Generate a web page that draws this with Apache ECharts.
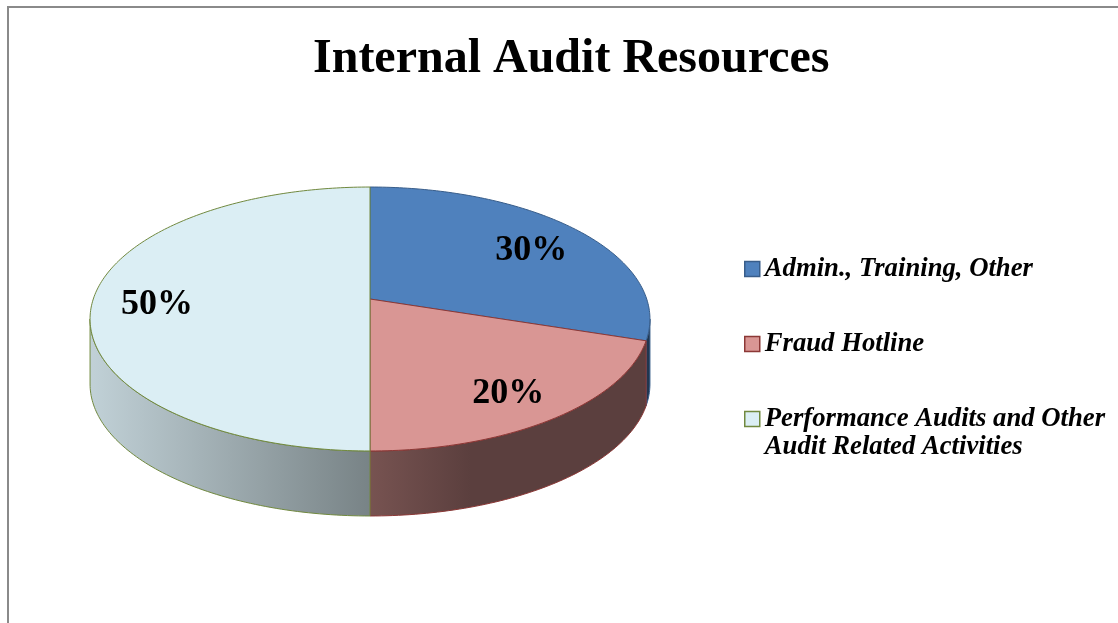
<!DOCTYPE html>
<html>
<head>
<meta charset="utf-8">
<title>Internal Audit Resources</title>
<script src="https://cdn.jsdelivr.net/npm/echarts@6/dist/echarts.min.js"></script>
<style>
html, body { margin: 0; padding: 0; background: #fff; }
#chart { width: 1118px; height: 623px; }
</style>
</head>
<body>
<div id="chart"></div>
<script>
// chart data
var categories = ['Admin., Training, Other', 'Fraud Hotline', 'Performance Audits and Other\nAudit Related Activities'];
var values = [30, 20, 50];
var fillColors = ['#4F81BD', '#D99694', '#DBEEF4'];
var borderColors = ['#385D8A', '#8C3836', '#71893F'];

var total = values.reduce(function (s, v) { return s + v; }, 0);
var startAngles = [];
var acc = 0;
for (var i = 0; i < values.length; i++) {
  startAngles.push(acc / total * 360);
  acc += values[i];
}

// tilted disc seen in perspective (excel style 3d pie)
var CX = 370, CY = 299, FOCAL = 1616, DIST = 5.84, SIN_T = 0.466, COS_T = 0.885, DEPTH = 65;
var LABEL_R = 0.77, LABEL_DY = 6;
var front0 = Math.acos(-COS_T / DIST) * 180 / Math.PI;
var front1 = 360 - front0;

function project(r, deg) {
  var t = deg * Math.PI / 180;
  var x = r * Math.sin(t), z = r * Math.cos(t);
  var w = DIST + z * COS_T;
  return [CX + FOCAL * x / w, CY - FOCAL * z * SIN_T / w];
}

function arc(a0, a1, dy) {
  var pts = [];
  var n = Math.max(2, Math.ceil(Math.abs(a1 - a0)));
  for (var k = 0; k <= n; k++) {
    var p = project(1, a0 + (a1 - a0) * k / n);
    pts.push([p[0], p[1] + dy]);
  }
  return pts;
}

function shade(hex, f) {
  var n = parseInt(hex.slice(1), 16);
  var r = Math.round(((n >> 16) & 255) * f);
  var g = Math.round(((n >> 8) & 255) * f);
  var b = Math.round((n & 255) * f);
  return 'rgb(' + r + ',' + g + ',' + b + ')';
}

function sideFill(hex) {
  var xl = project(1, front1)[0], xr = project(1, front0)[0];
  return new echarts.graphic.LinearGradient(xl, 0, xr, 0, [
    { offset: 0, color: shade(hex, 0.88) },
    { offset: 0.5, color: shade(hex, 0.55) },
    { offset: 0.68, color: shade(hex, 0.42) },
    { offset: 1, color: shade(hex, 0.42) }
  ], true);
}

function renderSlice(params, api) {
  var i = params.seriesIndex;
  var v = api.value(0);
  var a0 = startAngles[i];
  var a1 = a0 + v / total * 360;
  var children = [];

  // visible side wall
  var s0 = Math.max(a0, front0), s1 = Math.min(a1, front1);
  if (s1 > s0) {
    children.push({
      type: 'polygon',
      shape: { points: arc(s0, s1, 0).concat(arc(s1, s0, DEPTH)) },
      style: { fill: sideFill(fillColors[i]), stroke: borderColors[i], lineWidth: 1 }
    });
  }

  // top face
  children.push({
    type: 'polygon',
    shape: { points: [project(0, 0)].concat(arc(a0, a1, 0)) },
    style: { fill: fillColors[i], stroke: borderColors[i], lineWidth: 1 }
  });

  var lp = project(LABEL_R, (a0 + a1) / 2);
  children.push({
    type: 'text',
    x: lp[0],
    y: lp[1] + LABEL_DY,
    style: {
      text: Math.round(v / total * 100) + '%',
      fill: '#000',
      fontFamily: 'Liberation Serif',
      fontSize: 36,
      fontWeight: 'bold',
      align: 'center',
      verticalAlign: 'middle'
    }
  });
  return { type: 'group', children: children };
}

var chart = echarts.init(document.getElementById('chart'));

var series = categories.map(function (name, i) {
  return {
    type: 'custom',
    name: name,
    coordinateSystem: 'none',
    renderItem: renderSlice,
    itemStyle: { color: fillColors[i] },
    silent: true,
    data: [[values[i]]]
  };
});

var legendFont = {
  fontFamily: 'Liberation Serif',
  fontStyle: 'italic',
  fontWeight: 'bold',
  fontSize: 26.7,
  lineHeight: 28,
  color: '#000'
};

chart.setOption({
  animation: false,
  backgroundColor: '#fff',
  title: {
    text: 'Internal Audit Resources',
    left: 313,
    top: 36,
    padding: 0,
    textStyle: { fontFamily: 'Liberation Serif', fontSize: 48, fontWeight: 'bold', color: '#000' }
  },
  legend: {
    orient: 'vertical',
    left: 744,
    top: 227,
    padding: 0,
    itemWidth: 15,
    itemHeight: 15,
    itemGap: -9,
    icon: 'rect',
    selectedMode: false,
    formatter: function (name) {
      return name.split('\n').map(function (l) { return '{t|' + l + '}'; }).join('\n');
    },
    textStyle: Object.assign({
      backgroundColor: 'rgba(255,255,255,0)',
      rich: { t: legendFont }
    }, legendFont),
    data: categories.map(function (name, i) {
      return {
        name: name,
        itemStyle: { color: fillColors[i], borderColor: borderColors[i], borderWidth: 1.5 },
        textStyle: { padding: name.indexOf('\n') >= 0 ? [28, 0, 0, 0] : [28, 0, 28, 0] }
      };
    })
  },
  graphic: [{
    type: 'rect',
    silent: true,
    shape: { x: 8, y: 7, width: 1200, height: 700 },
    style: { fill: 'none', stroke: '#8a8a8a', lineWidth: 2 }
  }],
  series: series
});
</script>
</body>
</html>
